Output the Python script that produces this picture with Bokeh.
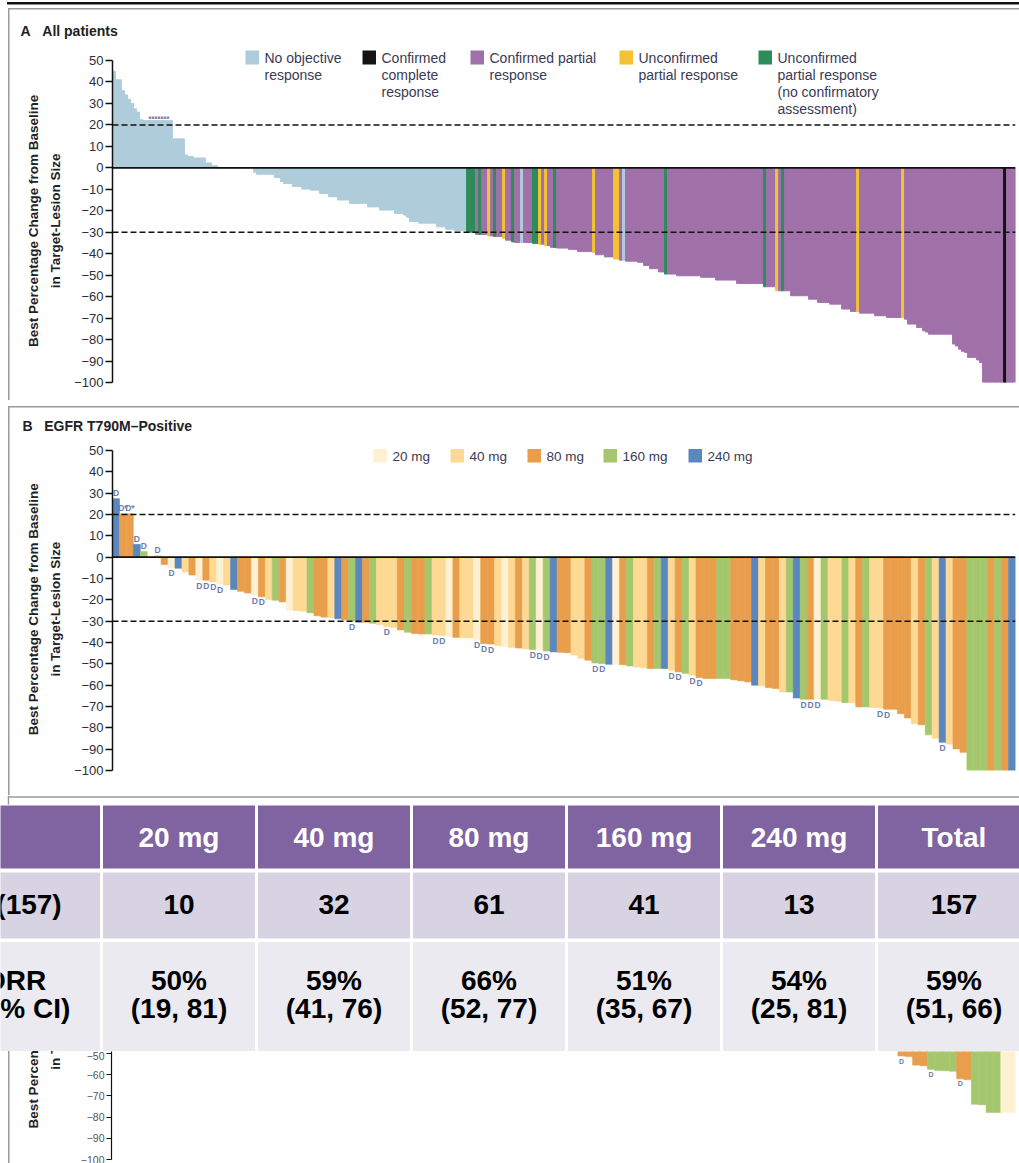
import math
from bokeh.plotting import figure
from bokeh.models import Range1d, FixedTicker, Span, Label, BoxAnnotation, ColumnDataSource
from bokeh.embed import file_html
from bokeh.resources import INLINE
from bokeh.core.properties import value

# ------------------------------------------------------------------ data
# Panel A: best % change per patient (ordered), response category per patient
a_vals = [
    45, 41, 41, 36, 34, 32, 30, 27.5, 26,
    22.5, 22, 22, 22, 22, 22, 22, 22, 22, 22, 22,
    13.5, 13.5, 13.5, 13.5, 6, 5.3, 5.3, 4.6, 4.6, 4.6, 4.6,
    2.3, 2.3, 1, 1,
    0, 0, 0, 0, 0, 0, 0, 0, 0, 0, 0, 0,
    -2, -3, -3, -3, -3, -3, -3, -4.5, -4.5, -6.4,
    -7.3, -7.3, -7.3, -8.7, -8.7, -8.7, -9.9, -9.9, -9.9,
    -10.4, -10.4, -10.4, -12, -12, -12, -13.5, -13.5, -13.5,
    -15, -15, -15, -15, -16.6, -16.6, -16.6, -16.6, -16.6, -16.6,
    -18.2, -18.2, -18.2, -18.2, -19.7, -19.7, -19.7, -19.7, -19.7,
    -21.3, -21.3, -21.3, -22, -23, -25, -25, -25,
    -25.8, -25.8, -25.8, -25.8, -25.8, -25.8,
    -27.5, -27.5, -27.5, -28.6, -28.6, -28.6, -29.3, -29.3, -29.3, -29.3,
    -30, -30, -30, -31, -31, -31, -31, -31.7, -31.7,
    -32, -32, -32, -32.8, -33.7, -33.7, -34.5,
    -34.8, -34.8, -34.8, -34.8, -34.8, -34.8, -35.2, -35.2,
    -35.6, -35.6, -36.3, -36.3, -37.1, -37.1,
    -37.4, -37.4, -37.4, -37.4, -38, -38, -38,
    -39, -39, -39, -39, -39, -39.4,
    -40.5, -40.5, -40.5, -41.5, -41.5, -41.5, -42.5, -42.5, -43, -43,
    -43.5, -43.5, -43.5, -43.5, -44, -44, -45.5, -45.5,
    -47, -47, -47, -48.5, -48.5,
    -49.5, -49.5, -49.5, -49.5,
    -50.3, -50.3, -50.3, -50.3, -50.3, -50.3, -50.3, -50.3,
    -51, -51, -51, -51, -51,
    -52.3, -52.3, -52.3, -52.3, -52.3, -52.3, -52.3,
    -53.9, -53.9, -53.9, -53.9, -53.9, -53.9, -53.9, -53.9, -53.9,
    -55.4, -55.4, -55.4, -55.4,
    -57.3, -57.3, -57.3, -57.3, -57.3,
    -59.6, -59.6, -59.6, -59.6, -59.6, -59.6,
    -61.2, -61.2, -61.2, -62.7, -62.7, -62.7, -62.7,
    -63.5, -63.5, -63.5, -63.5, -65.8, -65.8, -65.8,
    -66.9, -66.9, -66.9, -67.7, -67.7, -67.7, -67.7, -67.7,
    -68.9, -68.9, -68.9, -68.9,
    -69.7, -69.7, -69.7, -69.7, -69.7, -69.7, -70.5,
    -72.8, -72.8, -72.8, -74.4, -74.4, -75.9, -76.5,
    -77.5, -77.5, -77.5, -77.5, -77.5, -77.5, -77.5, -77.5,
    -82.1, -83, -84.5, -85.5, -86, -88.3, -88.3, -88.3, -89.5, -90.7,
    -100, -100, -100, -100, -100, -100, -100, -100, -100, -100, -100,
]
# N = no objective response, C = confirmed complete, P = confirmed partial,
# U = unconfirmed partial, G = unconfirmed partial (no confirmatory assessment)
a_resp = ("N" * 118 + "GGGPGPPUPG" + "PPUPPGPPNP" + "PPGGUPUPPG"
          + "P" * 12 + "U" + "P" * 6 + "UU" + "P" + "N" + "P" * 13 + "G"
          + "P" * 32 + "G" + "P" * 3 + "U" + "P" + "G" + "P" * 24 + "U"
          + "P" * 14 + "U" + "P" * 33 + "C" + "P" * 3)
a_marker_idx = [12, 13, 14, 15, 16, 17, 18]
a_legend_codes = ["N", "C", "P", "U", "G"]
a_legend_labels = [
    ["No objective", "response"],
    ["Confirmed", "complete", "response"],
    ["Confirmed partial", "response"],
    ["Unconfirmed", "partial response"],
    ["Unconfirmed", "partial response", "(no confirmatory", "assessment)"],
]

# Panel B: EGFR T790M-positive, dose (mg) and best % change per patient
b_dose = [
    240, 80, 80, 240, 160, 20, 40, 80, 20, 240,
    40, 80, 20, 80, 40, 20, 40, 240, 80, 80,
    20, 80, 40, 160, 80, 20, 40, 40, 160, 80,
    80, 40, 240, 80, 160, 240, 80, 160, 40, 40,
    40, 80, 160, 80, 80, 160, 40, 40, 20, 80,
    40, 40, 20, 80, 80, 40, 20, 40, 80, 40,
    160, 20, 160, 240, 80, 80, 40, 40, 80, 160,
    160, 240, 20, 80, 160, 40, 40, 80, 160, 240,
    40, 80, 160, 40, 80, 80, 80, 160, 160, 80,
    80, 80, 240, 40, 80, 80, 40, 160, 240, 160,
    80, 20, 160, 40, 40, 160, 40, 80, 160, 40,
    40, 80, 80, 80, 80, 40, 80, 160, 40, 240,
    40, 80, 80, 160, 160, 160, 80, 160, 80, 240,
]
b_vals = [
    27.4, 20.3, 20.3, 6, 2.7, 0.5, 0.8, -3.4, -5, -5.2,
    -6.9, -8.4, -10.8, -10.8, -11.6, -12.6, -13.1, -15.2, -16, -16.8,
    -17.8, -18.6, -19.9, -20.2, -21, -25, -25.1, -25.4, -26.1, -27.5,
    -28.1, -28.4, -28.9, -29.4, -30, -30.5, -30.5, -31, -31.6, -32.5,
    -32.9, -34.1, -35.2, -35.8, -36, -36, -36.5, -36.8, -37.3, -37.6,
    -37.8, -37.9, -38.8, -40.5, -40.7, -41.5, -42, -42.3, -42.6, -43,
    -43.3, -43.6, -44, -44.4, -44.6, -44.8, -45.9, -47.5, -48.3, -49.6,
    -49.9, -50.2, -50.2, -50.4, -51, -51.5, -51.9, -52.2, -52.2, -52.2,
    -53, -53.8, -54.5, -55.3, -56.5, -56.9, -56.9, -56.9, -56.9, -57.5,
    -58, -58.5, -60, -60.3, -61.2, -61.6, -63.2, -63.2, -66, -66.6,
    -66.6, -66.6, -66.6, -67.2, -67.5, -68.2, -68.2, -70.2, -70.2, -70.5,
    -70.7, -71.3, -71.3, -73.4, -75.4, -78.1, -78.6, -83.3, -84.9, -86.8,
    -87.6, -89.9, -91.5, -100, -100, -100, -100, -100, -100, -100,
]
b_marker_idx = [0, 1, 2, 3, 4, 6, 8, 12, 13, 14, 15, 20, 21, 34, 39, 46, 47,
                52, 53, 54, 60, 61, 62, 69, 70, 80, 81, 83, 84, 99, 100, 101,
                110, 111, 119]
b_marker_txt = ["D", "D*", "D*"] + ["D"] * 32
doses = [20, 40, 80, 160, 240]
dose_labels = ["20 mg", "40 mg", "80 mg", "160 mg", "240 mg"]

# Table
tbl_cols = ["20 mg", "40 mg", "80 mg", "160 mg", "240 mg", "Total"]
tbl_n = [10, 32, 61, 41, 13, 157]
tbl_orr = [50, 59, 66, 51, 54, 59]
tbl_ci_lo = [19, 41, 52, 35, 25, 51]
tbl_ci_hi = [81, 76, 77, 67, 81, 66]
tbl_row_labels = ["N (157)", "ORR", "(95% CI)"]

# Panel C (visible bottom-right fragment only)
c_dose = [80, 80, 80, 80, 160, 160, 160, 160, 80, 80, 160, 160, 160, 160, 20, 20]
c_vals = [-51.2, -51.5, -55.5, -55.8, -57.5, -58, -58.2, -58.4, -62, -62.4,
          -74, -74.2, -77.8, -77.8, -77.8, -77.8]
c_marker_idx = [0, 4, 8]

# ------------------------------------------------------------------ styles
A_COL = {"N": "#AECCDA", "C": "#141414", "P": "#A071A9", "U": "#F3C232", "G": "#2E8B5A"}
B_COL = {20: "#FEF0D2", 40: "#FDD993", 80: "#E99E4C", 160: "#A4C76E", 240: "#5B87BF"}
FONT = "Liberation Sans"
TXT = "#3a3a55"
NB = "\u00a0"
GRAY = "#9a9a9a"


def css_lines(specs):
    return ", ".join(f"linear-gradient({c}, {c}) {x}px {y}px / {w}px {h}px no-repeat"
                     for (x, y, w, h, c) in specs)


def canvas_label(p, x, y, text, size="13px", style="normal", color=TXT,
                 align="left", baseline="middle", angle=0.0):
    kw = dict(x=x, y=y, text=text, text_font=FONT, text_font_size=size,
              text_font_style=style, text_color=color, text_align=align,
              text_baseline=baseline, angle=angle)
    try:
        lab = Label(x_units="canvas", y_units="canvas", **kw)
    except Exception:
        lab = Label(x_units="screen", y_units="screen", **kw)
    p.add_layout(lab)


def canvas_box(p, l, r, t, b, fill=None):
    kw = dict(left=l, right=r, top=t, bottom=b, fill_color=fill, fill_alpha=1.0,
              line_color=None)
    try:
        box = BoxAnnotation(left_units="canvas", right_units="canvas",
                            top_units="canvas", bottom_units="canvas", **kw)
    except Exception:
        box = BoxAnnotation(left_units="screen", right_units="screen",
                            top_units="screen", bottom_units="screen", **kw)
    p.add_layout(box)


def style_yaxis(p, ticks, size="13px", color="#2e2e3a", label=None, standoff=8,
                label_size="13.5px"):
    ax = p.yaxis[0]
    ax.ticker = FixedTicker(ticks=ticks)
    ax.bounds = (min(ticks), max(ticks))
    ax.major_label_overrides = {t: ("\u2212" + str(-t)) if t < 0 else str(t) for t in ticks}
    ax.major_label_text_font = FONT
    ax.major_label_text_font_size = size
    ax.major_label_text_color = color
    ax.major_label_standoff = 2
    ax.major_tick_out = 7
    ax.major_tick_in = 0
    ax.minor_tick_out = 0
    ax.minor_tick_in = 0
    ax.axis_line_color = "#111111"
    ax.axis_line_width = 1.5
    ax.major_tick_line_color = "#111111"
    ax.major_tick_line_width = 1.5
    if label:
        ax.axis_label = label
        ax.axis_label_text_font = FONT
        ax.axis_label_text_font_size = label_size
        ax.axis_label_text_font_style = "bold"
        ax.axis_label_text_color = "#222222"
        ax.axis_label_text_line_height = 1.45
        ax.axis_label_standoff = standoff


def base_fig(h, n, y0, y1, top, bottom, left=112, lines=()):
    p = figure(width=1019, height=h, x_range=Range1d(0, n), y_range=Range1d(y0, y1),
               toolbar_location=None, output_backend="svg", x_axis_location=None,
               min_border_left=left, min_border_right=4, min_border_top=top,
               min_border_bottom=bottom, outline_line_color=None,
               background_fill_alpha=0.0, border_fill_alpha=0.0)
    p.grid.visible = False
    if lines:
        p.styles = {"background": css_lines(lines)}
    return p


def ref_lines(p):
    p.add_layout(Span(location=0, dimension="width", line_color="#111111", line_width=1.6))
    for lv in (20, -30):
        p.add_layout(Span(location=lv, dimension="width", line_color="#111111",
                          line_width=1.5, line_dash="6 3"))


def set_title(p, text, offset, standoff):
    p.title.text = text
    p.title.text_font = FONT
    p.title.text_font_size = "14px"
    p.title.text_font_style = "bold"
    p.title.text_color = "#222222"
    p.title.align = "left"
    p.title.offset = offset
    p.title.standoff = standoff


def ylab(extra):
    return ("Best Percentage Change from Baseline" + NB * extra + "\n"
            + "in Target-Lesion Size" + NB * extra)


TICKS = list(range(-100, 51, 10))

# ------------------------------------------------------------------ panel A
n_a = min(len(a_vals), len(a_resp))
sA = 322 / 150.0
pA = base_fig(400, n_a, -100, 50 + 20 / sA, 40, 18,
              lines=[(7, 2, 1012, 2.5, "#111111"), (8, 8, 1011, 1.5, GRAY),
                     (8, 8, 1.5, 392, GRAY)])
srcA = ColumnDataSource(dict(x=[i + 0.5 for i in range(n_a)], top=a_vals[:n_a],
                             color=[A_COL[c] for c in a_resp[:n_a]]))
pA.vbar(x="x", top="top", bottom=0, width=1.0, fill_color="color",
        line_color="color", line_width=0.9, source=srcA)
pA.scatter(x=[i + 0.5 for i in a_marker_idx], y=[a_vals[i] + 1.3 for i in a_marker_idx],
           marker="square", size=2.5, fill_color="#8a8aa8", line_color=None)
ref_lines(pA)
style_yaxis(pA, TICKS, label=ylab(5))
set_title(pA, "A" + NB * 3 + "All patients", -92, 4)
leg_x = [245, 362, 470, 619, 758]
for lx, code, lines in zip(leg_x, a_legend_codes, a_legend_labels):
    canvas_box(pA, lx, lx + 13.5, 50, 64, fill=A_COL[code])
    for k, ln in enumerate(lines):
        canvas_label(pA, lx + 19, 57 + 17 * k, ln, size="14px")

# ------------------------------------------------------------------ panel B
n_b = min(len(b_vals), len(b_dose))
sB = 320 / 150.0
pB = base_fig(395, n_b, -100, 50 + 10 / sB, 40, 25,
              lines=[(8, 6, 1011, 1.5, GRAY), (8, 6, 1.5, 389, GRAY)])
srcB = ColumnDataSource(dict(x=[i + 0.5 for i in range(n_b)], top=b_vals[:n_b],
                             color=[B_COL[d] for d in b_dose[:n_b]]))
pB.vbar(x="x", top="top", bottom=0, width=1.0, fill_color="color",
        line_color="color", line_width=0.6, source=srcB)
mk_y = [b_vals[i] + 2.6 if b_vals[i] > 0 else b_vals[i] - 2.6 for i in b_marker_idx]
pB.text(x=[i + 0.5 for i in b_marker_idx], y=mk_y, text=b_marker_txt,
        text_font=value(FONT), text_font_size="8.5px", text_font_style="bold",
        text_color="#6d7cab", text_align="center", text_baseline="middle")
ref_lines(pB)
style_yaxis(pB, TICKS, label=ylab(2))
set_title(pB, "B" + NB * 3 + "EGFR T790M\u2013Positive", -90, 13)
legB_x = [373, 450, 527, 603, 688]
for lx, d, lab in zip(legB_x, doses, dose_labels):
    canvas_box(pB, lx, lx + 13.5, 48.5, 62, fill=B_COL[d])
    canvas_label(pB, lx + 19, 55.5, lab, size="13.5px")

# ------------------------------------------------------------------ table
pT = figure(width=1019, height=256, x_range=Range1d(0, 1019), y_range=Range1d(1051, 795),
            toolbar_location=None, output_backend="svg", x_axis_location=None,
            y_axis_location=None, min_border=0, outline_line_color=None,
            background_fill_color="white", border_fill_color="white")
pT.grid.visible = False
col_left = [-72] + [101 + 155 * j for j in range(len(tbl_cols))]
col_right = [101] + [101 + 155 * (j + 1) for j in range(len(tbl_cols))]
rows = [(805, 868, "#8064A2"), (872, 938, "#D8D3E3"), (941.5, 1053, "#ECEAF1")]
ql, qr, qt, qb, qc = [], [], [], [], []
for (rt, rb, rc) in rows:
    for l, r in zip(col_left, col_right):
        ql.append(l + 1.5); qr.append(r - 1.5); qt.append(rt); qb.append(rb); qc.append(rc)
pT.quad(left=ql, right=qr, top=qt, bottom=qb, fill_color=qc, line_color=None)
pT.segment(x0=[8, 8], y0=[796.5, 795], x1=[1019, 8], y1=[796.5, 804],
           line_color=GRAY, line_width=1.5)
cx = [(l + r) / 2 for l, r in zip(col_left, col_right)]
tkw = dict(text_font=value(FONT), text_font_style="bold", text_font_size="28px",
           text_align="center", text_baseline="middle")
pT.text(x=cx[1:], y=[836.5] * len(tbl_cols), text=tbl_cols, text_color="white", **tkw)
pT.text(x=cx[1:], y=[904] * len(tbl_cols), text=[str(v) for v in tbl_n], text_color="black", **tkw)
pT.text(x=cx[1:], y=[980] * len(tbl_cols), text=[f"{v}%" for v in tbl_orr], text_color="black", **tkw)
pT.text(x=cx[1:], y=[1008] * len(tbl_cols),
        text=[f"({lo}, {hi})" for lo, hi in zip(tbl_ci_lo, tbl_ci_hi)], text_color="black", **tkw)
pT.text(x=[cx[0]] * 3, y=[904, 980, 1008], text=tbl_row_labels, text_color="black", **tkw)

# ------------------------------------------------------------------ panel C fragment
c_first = 107
c_total = 123
pC = base_fig(112, c_total, -100, -49.1, 0, 4, left=111, lines=[(8, 0, 1.5, 112, GRAY)])
srcC = ColumnDataSource(dict(x=[c_first + i + 0.5 for i in range(len(c_vals))], top=c_vals,
                             color=[B_COL[d] for d in c_dose]))
pC.vbar(x="x", top="top", bottom=0, width=1.0, fill_color="color",
        line_color="color", line_width=0.6, source=srcC)
pC.text(x=[c_first + i + 0.5 for i in c_marker_idx], y=[c_vals[i] - 2.4 for i in c_marker_idx],
        text=["D"] * len(c_marker_idx), text_font=value(FONT), text_font_size="7px",
        text_font_style="bold", text_color="#6d7cab", text_align="center", text_baseline="middle")
pad = NB * 55
style_yaxis(pC, list(range(-100, -49, 10)), size="10.5px", color="#555555",
            label=pad + "Best Percentage Change from Baseline\n" + pad + "in Target-Lesion Size",
            standoff=15)
pC.yaxis[0].bounds = "auto"
pC.yaxis[0].major_tick_out = 5
pC.yaxis[0].axis_line_width = 1.2
pC.yaxis[0].major_tick_line_width = 1.2

open("out.html", "w").write(file_html([pA, pB, pT, pC], INLINE))
